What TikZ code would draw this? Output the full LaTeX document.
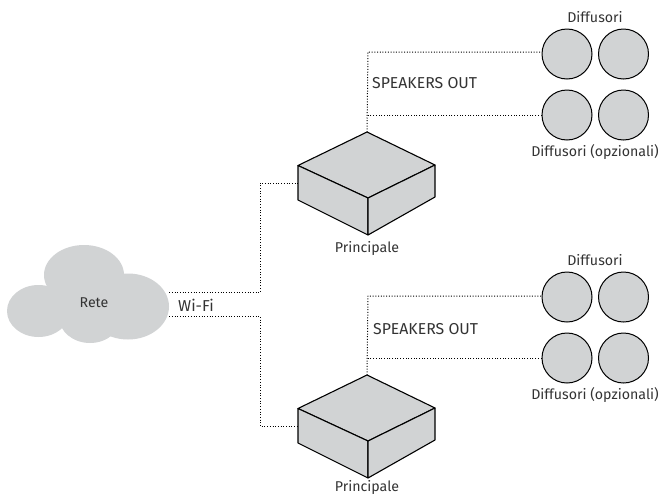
\documentclass[tikz,border=0pt]{standalone}
\usepackage{fontspec}
\setmainfont{Fira Sans}
\usepackage{tikz}
\usetikzlibrary{shapes.geometric,positioning}

\definecolor{unitgray}{HTML}{D1D3D4}
\definecolor{textgray}{HTML}{333333}

\tikzset{
    puff/.style={ellipse,fill=unitgray,inner sep=0pt},
    speaker/.style={circle,draw=black,fill=unitgray,line width=1pt,minimum size=50pt,inner sep=0pt},
    unitface/.style={draw=black,fill=unitgray,line width=1.1pt,line join=round},
    link/.style={black,line width=1pt,dash pattern=on 1pt off 1.7pt},
    caption/.style={text=textgray,font=\fontsize{14.2}{16}\selectfont,inner sep=0pt},
    portname/.style={caption,anchor=west,font=\fontsize{15.8}{18}\selectfont}
}

% box with its corners named after #1, top corner at (#2,#3)
\newcommand{\UnitBox}[3]{
    \coordinate (#1top) at (#2,#3);
    \coordinate (#1left) at (#2-69,#3+33.5);
    \coordinate (#1right) at (#2+68,#3+33);
    \coordinate (#1front) at (#2+1,#3+66);
    \coordinate (#1leftlow) at (#2-69,#3+68);
    \coordinate (#1rightlow) at (#2+68,#3+65);
    \coordinate (#1frontlow) at (#2+1,#3+103);
    \coordinate (#1port) at (#2-69,#3+51);
    \draw[unitface] (#1top) -- (#1right) -- (#1front) -- (#1left) -- cycle;
    \draw[unitface] (#1left) -- (#1front) -- (#1frontlow) -- (#1leftlow) -- cycle;
    \draw[unitface] (#1front) -- (#1right) -- (#1rightlow) -- (#1frontlow) -- cycle;
}

% four speakers, first one centred at (#2,#3)
\newcommand{\SpeakerSet}[3]{
    \node[speaker] (#1a) at (#2,#3) {};
    \node[speaker,right=5.5pt of #1a] (#1b) {};
    \node[speaker,below=10pt of #1a] (#1c) {};
    \node[speaker,right=5.5pt of #1c] (#1d) {};
    \node[caption] (#1main) at (595,#3-37) {Diffusori};
    \node[caption] (#1opt) at (595,#3+98) {Diffusori (opzionali)};
}

\begin{document}
\begin{tikzpicture}[x=1pt,y=-1pt]
    \useasboundingbox (0,0) rectangle (665,496);

    % cloud
    \node[puff,minimum width=80pt,minimum height=60pt] (cloudtop) at (84,275) {};
    \node[puff,minimum width=63pt,minimum height=52pt] (cloudleft) at (38.5,311) {};
    \node[puff,minimum width=82pt,minimum height=66pt] (cloudright) at (128,306.5) {};
    \node[puff,minimum width=62pt,minimum height=52pt] (cloudlow) at (90,317) {};
    \node[caption] (rete) at (94,303) {Rete};

    % wifi
    \coordinate (wifiup) at (260,292.5);
    \coordinate (wifidown) at (260,316);
    \node[portname] (wifi) at (178,305) {Wi-Fi};

    \UnitBox{mainone}{367}{132}
    \UnitBox{maintwo}{367}{375}
    \node[caption] (labelone) at (367,248) {Principale};
    \node[caption] (labeltwo) at (367,487.5) {Principale};

    \SpeakerSet{setone}{567}{54}
    \SpeakerSet{settwo}{567}{297}

    \node[portname] (outone) at (372,83) {SPEAKERS OUT};
    \node[portname] (outtwo) at (373,329) {SPEAKERS OUT};

    \draw[link] (wifiup -| cloudright.east) -- (wifiup) |- (mainoneport);
    \draw[link] (wifidown -| cloudright.east) -- (wifidown) |- (maintwoport);

    \coordinate (cornerone) at (368,52);
    \coordinate (cornertwo) at (368,296);
    \draw[link] (mainonetop) -- (cornerone) -- (cornerone -| setonea.west);
    \draw[link] (setonec.west) -- (setonec.west -| cornerone);
    \draw[link] (maintwotop) -- (cornertwo) -- (cornertwo -| settwoa.west);
    \draw[link] (settwoc.west) -- (settwoc.west -| cornertwo);
\end{tikzpicture}
\end{document}
